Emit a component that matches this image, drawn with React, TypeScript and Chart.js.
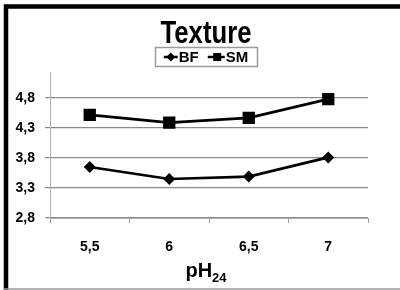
import React, { useEffect, useRef } from "react";
import { Chart, registerables } from "chart.js";

Chart.register(...registerables);

const categories = ["5,5", "6", "6,5", "7"];
const seriesNames = ["BF", "SM"];
const bfValues = [3.65, 3.45, 3.49, 3.81];
const smValues = [4.52, 4.39, 4.47, 4.78];
const yTickValues = [2.8, 3.3, 3.8, 4.3, 4.8];
const yMin = 2.8;
const yMax = 5.233;
const titleText = "Texture";
const xTitleMain = "pH";
const xTitleSub = "24";

const SANS = "'Liberation Sans', Arial, sans-serif";

const decorPlugin = {
  id: "decor",
  afterDraw(chart: any) {
    const ctx = chart.ctx as CanvasRenderingContext2D;
    const ca = chart.chartArea;
    const cx = (ca.left + ca.right) / 2 - 3;
    ctx.save();

    // frame
    ctx.strokeStyle = "#000";
    ctx.lineWidth = 4.5;
    ctx.beginPath();
    ctx.moveTo(6, chart.height);
    ctx.lineTo(6, 6.5);
    ctx.lineTo(chart.width, 6.5);
    ctx.stroke();
    ctx.strokeStyle = "#9a9a9a";
    ctx.lineWidth = 1.5;
    ctx.beginPath();
    ctx.moveTo(4, chart.height - 1);
    ctx.lineTo(chart.width, chart.height - 1);
    ctx.stroke();

    // title (condensed bold)
    ctx.fillStyle = "#000";
    ctx.font = "bold 31px " + SANS;
    ctx.textBaseline = "alphabetic";
    ctx.textAlign = "center";
    ctx.save();
    ctx.translate(cx, 0);
    ctx.scale(0.83, 1);
    ctx.fillText(titleText, 0, 43);
    ctx.restore();

    // legend
    ctx.font = "bold 15px " + SANS;
    ctx.textBaseline = "middle";
    const symW = [14, 17];
    const gapSymText = 1;
    const gapItems = 9;
    const wText = seriesNames.map((t) => ctx.measureText(t).width);
    const total = symW[0] + gapSymText + wText[0] + gapItems + symW[1] + gapSymText + wText[1];
    const boxPadX = 9;
    const ly = ca.top - 15;
    const bx = cx - total / 2 - boxPadX;
    ctx.strokeStyle = "#9a9a9a";
    ctx.lineWidth = 1.5;
    ctx.strokeRect(Math.round(bx) + 0.5, ly - 9.5, Math.round(total + boxPadX * 2), 19);
    let x = cx - total / 2;
    seriesNames.forEach((name, i) => {
      ctx.strokeStyle = "#000";
      ctx.fillStyle = "#000";
      ctx.lineWidth = 2.5;
      ctx.beginPath();
      ctx.moveTo(x, ly);
      ctx.lineTo(x + symW[i], ly);
      ctx.stroke();
      const mx = x + symW[i] / 2 + (i === 1 ? 1 : 0);
      ctx.beginPath();
      if (i === 0) {
        const r = 4.5;
        ctx.moveTo(mx - r, ly);
        ctx.lineTo(mx, ly - r);
        ctx.lineTo(mx + r, ly);
        ctx.lineTo(mx, ly + r);
        ctx.closePath();
      } else {
        ctx.rect(mx - 4, ly - 4, 8, 8);
      }
      ctx.fill();
      x += symW[i] + gapSymText;
      ctx.textAlign = "left";
      ctx.fillText(name, x, ly + 1);
      x += wText[i] + gapItems;
    });

    // x axis title with subscript
    ctx.fillStyle = "#000";
    ctx.textBaseline = "alphabetic";
    ctx.textAlign = "left";
    ctx.font = "bold 20px " + SANS;
    const w1 = ctx.measureText(xTitleMain).width;
    ctx.font = "bold 13px " + SANS;
    const w2 = ctx.measureText(xTitleSub).width;
    const sx = cx - (w1 + w2) / 2;
    ctx.font = "bold 20px " + SANS;
    ctx.fillText(xTitleMain, sx, ca.bottom + 59);
    ctx.font = "bold 13px " + SANS;
    ctx.fillText(xTitleSub, sx + w1, ca.bottom + 64);
    ctx.restore();
  },
};

export default function App() {
  const ref = useRef<HTMLCanvasElement | null>(null);
  useEffect(() => {
    document.body.style.margin = "0";
    const canvas = ref.current!;
    const chart = new Chart(canvas, {
      type: "line",
      data: {
        labels: categories,
        datasets: [
          {
            label: seriesNames[0],
            data: bfValues,
            borderColor: "#000",
            backgroundColor: "#000",
            borderWidth: 2.7,
            pointStyle: "rectRot",
            pointRadius: 6,
            pointBorderWidth: 0,
            tension: 0,
          },
          {
            label: seriesNames[1],
            data: smValues,
            borderColor: "#000",
            backgroundColor: "#000",
            borderWidth: 2.7,
            pointStyle: "rect",
            pointRadius: 8.7,
            pointBorderWidth: 0,
            tension: 0,
          },
        ],
      },
      options: {
        responsive: false,
        animation: false,
        devicePixelRatio: 1,
        layout: { padding: { left: 14, right: 32, top: 72, bottom: 0 } },
        plugins: {
          legend: { display: false },
          tooltip: { enabled: false },
          title: { display: false },
        },
        scales: {
          x: {
            type: "category",
            offset: true,
            afterFit: (scale: any) => {
              scale.height = 72;
            },
            grid: {
              offset: true,
              drawOnChartArea: false,
              drawTicks: true,
              tickLength: 5,
              color: "#a0a0a0",
              lineWidth: 1,
            },
            border: { display: true, color: "#b0b0b0", width: 1 },
            ticks: {
              color: "#000",
              padding: 16,
              font: { family: SANS, weight: "bold", size: 14 },
            },
          },
          y: {
            min: yMin,
            max: yMax,
            afterFit: (scale: any) => {
              scale.width = 36;
            },
            afterBuildTicks: (scale: any) => {
              scale.ticks = yTickValues.map((v) => ({ value: v }));
            },
            grid: {
              drawTicks: true,
              tickLength: 5,
              color: "#8a8a8a",
              lineWidth: 1.2,
            },
            border: { display: true, color: "#b0b0b0", width: 1 },
            ticks: {
              color: "#000",
              padding: 10,
              autoSkip: false,
              font: { family: SANS, weight: "bold", size: 14 },
              callback: (v: any) => Number(v).toFixed(1).replace(".", ","),
            },
          },
        },
      },
      plugins: [decorPlugin],
    });
    return () => chart.destroy();
  }, []);
  return (
    <div style={{ width: 400, height: 290, background: "#fff" }}>
      <canvas ref={ref} width={400} height={290} style={{ display: "block" }} />
    </div>
  );
}
